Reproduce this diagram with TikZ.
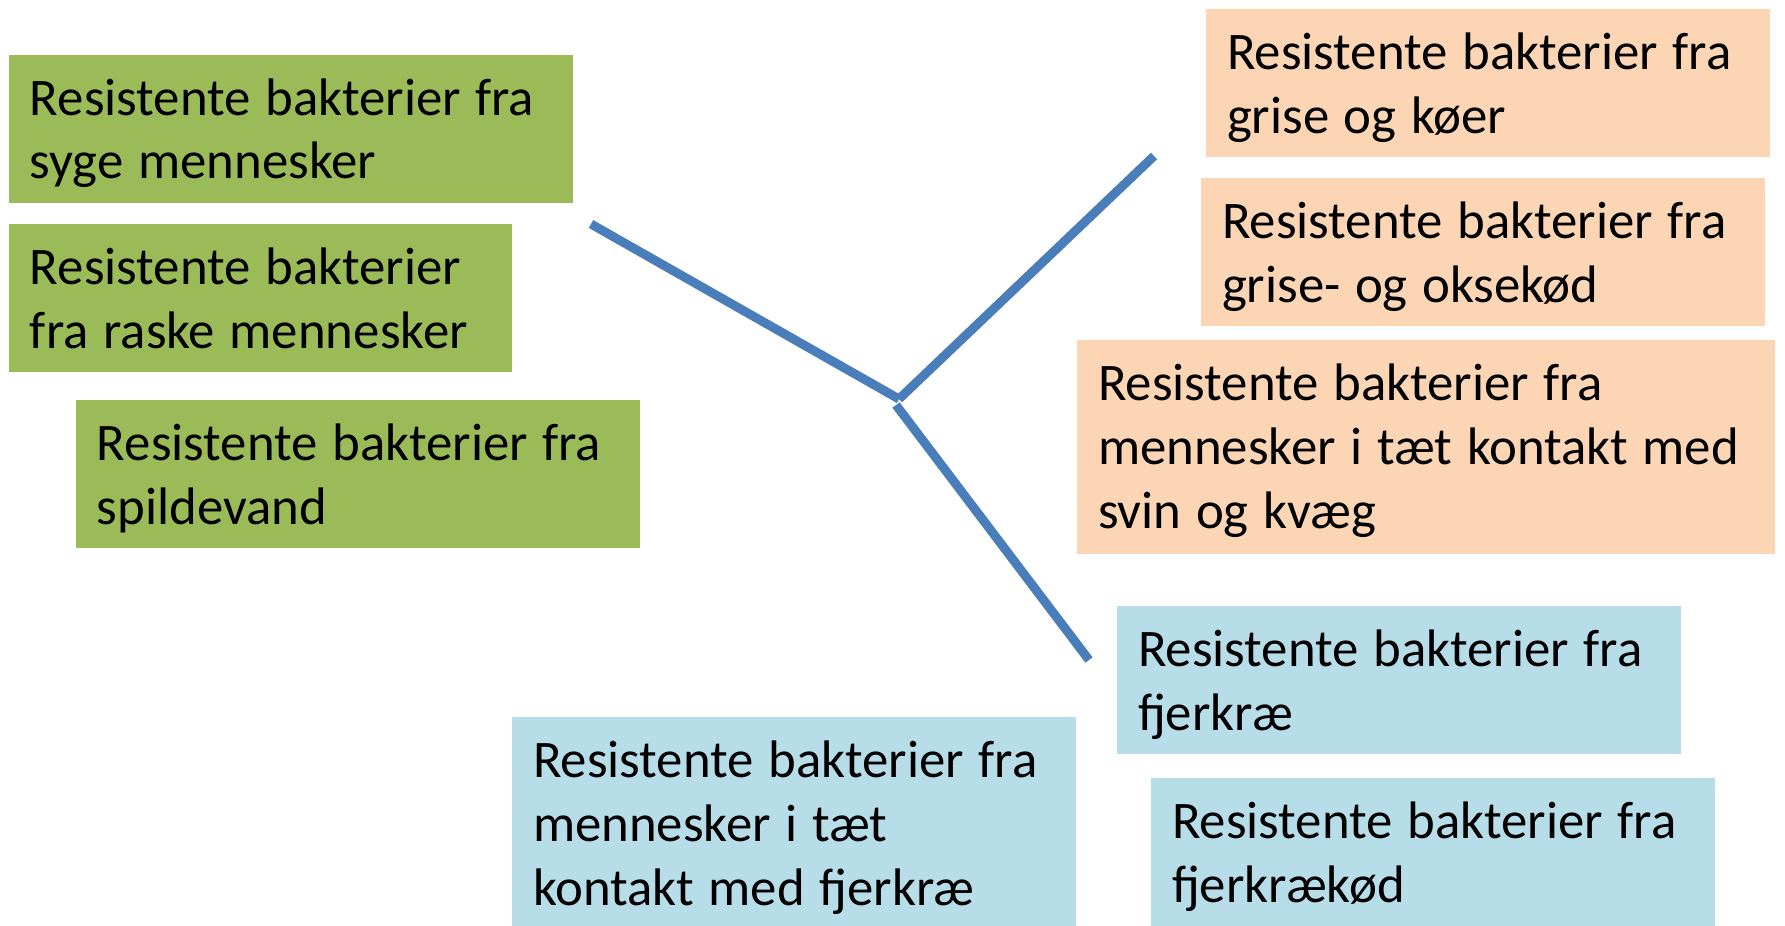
\documentclass[tikz,border=0pt]{standalone}
\usepackage{fontspec}
\setmainfont{Carlito}
\usepackage{xcolor}
\usepackage{tikz}
\definecolor{grass}{HTML}{9BBB59}
\definecolor{peach}{HTML}{FCD5B5}
\definecolor{sky}{HTML}{B7DEE8}
\definecolor{branchblue}{HTML}{4A7EBB}
\newcommand\srcfont{\fontsize{26.4}{32}\selectfont\spaceskip=7.3pt\relax}

\begin{document}
\begin{tikzpicture}[
    x=0.5pt, y=-0.5pt,
    outer sep=0pt,
    src/.style={anchor=north west, rectangle, inner xsep=10.5pt, inner ysep=0pt, text width=261pt, align=flush left, text height=30pt, text depth=44pt, font=\srcfont},
    branch/.style={draw=branchblue, line width=4.5pt}
]
    \useasboundingbox (0,0) rectangle (1785,926);
    \clip (0,0) rectangle (1785,926);

    \node [src, fill=grass] (syge) at (9,55) {Resistente bakterier fra\\syge mennesker};
    \node [src, fill=grass, text width=230.5pt] (raske) at (9,224) {Resistente bakterier\\fra raske mennesker};
    \node [src, fill=grass] (spilde) at (76,400) {Resistente bakterier fra\\spildevand};

    \node [src, fill=peach] (koer) at (1206,9) {Resistente bakterier fra\\grise og køer};
    \node [src, fill=peach] (oksekod) at (1201,178) {Resistente bakterier fra\\grise- og oksekød};
    \node [src, fill=peach, text width=328pt, text depth=77pt] (svin) at (1077,340) {Resistente bakterier fra\\mennesker i tæt kontakt med\\svin og kvæg};

    \node [src, fill=sky] (fjerkrae) at (1117,606) {Resistente bakterier fra\\fjerkræ};
    \node [src, fill=sky, text depth=80pt] (fjerkontakt) at (512,717) {Resistente bakterier fra\\mennesker i tæt\\kontakt med fjerkræ};
    \node [src, fill=sky] (fjerkod) at (1151,778) {Resistente bakterier fra\\fjerkrækød};

    \coordinate (hub) at (899,399);
    \coordinate (foot) at (896,405);
    \coordinate (human) at (591,224);
    \coordinate (pig) at (1154,156);
    \coordinate (bird) at (1089,660);
    \draw [branch] (hub) -- (human);
    \draw [branch] (hub) -- (pig);
    \draw [branch] (foot) -- (bird);
\end{tikzpicture}
\end{document}
